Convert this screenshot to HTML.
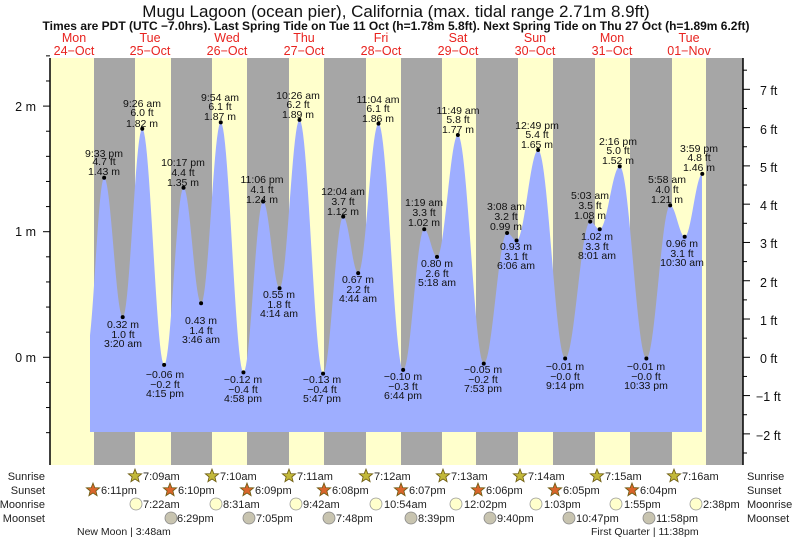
<!DOCTYPE html>
<html><head><meta charset="utf-8"><style>
body{margin:0;background:#fff;}
svg{display:block;font-family:"Liberation Sans",sans-serif;}
.t{font-size:10.5px;fill:#111;text-anchor:middle}
.d{font-size:12.5px;fill:#e8231f;text-anchor:middle}
.r{font-size:11px;fill:#222}
.ax{font-size:12.5px;fill:#111}
</style></head><body>
<svg id="s" width="793" height="539" viewBox="0 0 793 539" xmlns="http://www.w3.org/2000/svg">
<rect width="793" height="539" fill="#fff"/>
<rect x="50" y="58" width="693" height="407" fill="#ffffcc"/>
<g fill="#a6a6a6">
<rect x="94" y="58" width="41" height="407"/>
<rect x="171" y="58" width="41" height="407"/>
<rect x="247" y="58" width="42" height="407"/>
<rect x="324" y="58" width="42" height="407"/>
<rect x="401" y="58" width="41" height="407"/>
<rect x="476" y="58" width="42" height="407"/>
<rect x="553" y="58" width="42" height="407"/>
<rect x="630" y="58" width="42" height="407"/>
<rect x="706" y="58" width="37" height="407"/>
</g>
<path id="tide" fill="#9eaeff" d=""/>
<g id="dots" fill="#000"></g>
<line x1="50" y1="58" x2="50" y2="465" stroke="#000" stroke-width="1.5"/>
<line x1="743" y1="58" x2="743" y2="465" stroke="#000" stroke-width="1.5"/>
<g id="ticks" stroke="#000" stroke-width="1"></g>

<text x="396" y="17" font-size="17" text-anchor="middle" fill="#111">Mugu Lagoon (ocean pier), California (max. tidal range 2.71m 8.9ft)</text>
<text x="396" y="30" font-size="12" font-weight="bold" text-anchor="middle" fill="#111">Times are PDT (UTC −7.0hrs). Last Spring Tide on Tue 11 Oct (h=1.78m 5.8ft). Next Spring Tide on Thu 27 Oct (h=1.89m 6.2ft)</text>
<g class="d">
<text x="74" y="42">Mon</text><text x="74" y="55">24−Oct</text>
<text x="150" y="42">Tue</text><text x="150" y="55">25−Oct</text>
<text x="227" y="42">Wed</text><text x="227" y="55">26−Oct</text>
<text x="304" y="42">Thu</text><text x="304" y="55">27−Oct</text>
<text x="381" y="42">Fri</text><text x="381" y="55">28−Oct</text>
<text x="458" y="42">Sat</text><text x="458" y="55">29−Oct</text>
<text x="535" y="42">Sun</text><text x="535" y="55">30−Oct</text>
<text x="612" y="42">Mon</text><text x="612" y="55">31−Oct</text>
<text x="689" y="42">Tue</text><text x="689" y="55">01−Nov</text>
</g>
<g class="ax" text-anchor="end">
<text x="36" y="111">2 m</text><text x="36" y="236">1 m</text><text x="36" y="362">0 m</text>
</g>
<g class="ax">
<text x="760" y="95">7 ft</text><text x="760" y="134">6 ft</text><text x="760" y="172">5 ft</text>
<text x="760" y="210">4 ft</text><text x="760" y="248">3 ft</text><text x="760" y="287">2 ft</text>
<text x="760" y="325">1 ft</text><text x="760" y="363">0 ft</text><text x="756" y="401">−1 ft</text>
<text x="756" y="440">−2 ft</text>
</g>

<g class="t">
<text x="104" y="157">9:33 pm</text><text x="104" y="165">4.7 ft</text><text x="104" y="175">1.43 m</text>
<text x="123" y="328">0.32 m</text><text x="123" y="338">1.0 ft</text><text x="123" y="347">3:20 am</text>
<text x="142" y="107">9:26 am</text><text x="142" y="116">6.0 ft</text><text x="142" y="127">1.82 m</text>
<text x="165" y="378">−0.06 m</text><text x="165" y="388">−0.2 ft</text><text x="165" y="397">4:15 pm</text>
<text x="183" y="166">10:17 pm</text><text x="183" y="176">4.4 ft</text><text x="183" y="186">1.35 m</text>
<text x="201" y="324">0.43 m</text><text x="201" y="334">1.4 ft</text><text x="201" y="343">3:46 am</text>
<text x="220" y="101">9:54 am</text><text x="220" y="110">6.1 ft</text><text x="220" y="120">1.87 m</text>
<text x="243" y="383">−0.12 m</text><text x="243" y="393">−0.4 ft</text><text x="243" y="402">4:58 pm</text>
<text x="262" y="183">11:06 pm</text><text x="262" y="193">4.1 ft</text><text x="262" y="203">1.24 m</text>
<text x="279" y="298">0.55 m</text><text x="279" y="308">1.8 ft</text><text x="279" y="317">4:14 am</text>
<text x="298" y="99">10:26 am</text><text x="298" y="108">6.2 ft</text><text x="298" y="118">1.89 m</text>
<text x="322" y="383">−0.13 m</text><text x="322" y="393">−0.4 ft</text><text x="322" y="402">5:47 pm</text>
<text x="343" y="195">12:04 am</text><text x="343" y="205">3.7 ft</text><text x="343" y="215">1.12 m</text>
<text x="358" y="283">0.67 m</text><text x="358" y="293">2.2 ft</text><text x="358" y="302">4:44 am</text>
<text x="378" y="103">11:04 am</text><text x="378" y="112">6.1 ft</text><text x="378" y="122">1.86 m</text>
<text x="403" y="380">−0.10 m</text><text x="403" y="390">−0.3 ft</text><text x="403" y="399">6:44 pm</text>
<text x="424" y="206">1:19 am</text><text x="424" y="216">3.3 ft</text><text x="424" y="226">1.02 m</text>
<text x="437" y="267">0.80 m</text><text x="437" y="277">2.6 ft</text><text x="437" y="286">5:18 am</text>
<text x="458" y="114">11:49 am</text><text x="458" y="123">5.8 ft</text><text x="458" y="133">1.77 m</text>
<text x="483" y="373">−0.05 m</text><text x="483" y="383">−0.2 ft</text><text x="483" y="392">7:53 pm</text>
<text x="506" y="210">3:08 am</text><text x="506" y="220">3.2 ft</text><text x="506" y="230">0.99 m</text>
<text x="516" y="250">0.93 m</text><text x="516" y="260">3.1 ft</text><text x="516" y="269">6:06 am</text>
<text x="537" y="129">12:49 pm</text><text x="537" y="138">5.4 ft</text><text x="537" y="148">1.65 m</text>
<text x="565" y="370">−0.01 m</text><text x="565" y="380">−0.0 ft</text><text x="565" y="389">9:14 pm</text>
<text x="590" y="199">5:03 am</text><text x="590" y="209">3.5 ft</text><text x="590" y="219">1.08 m</text>
<text x="597" y="240">1.02 m</text><text x="597" y="250">3.3 ft</text><text x="597" y="259">8:01 am</text>
<text x="618" y="145">2:16 pm</text><text x="618" y="154">5.0 ft</text><text x="618" y="164">1.52 m</text>
<text x="646" y="370">−0.01 m</text><text x="646" y="380">−0.0 ft</text><text x="646" y="389">10:33 pm</text>
<text x="667" y="183">5:58 am</text><text x="667" y="193">4.0 ft</text><text x="667" y="203">1.21 m</text>
<text x="682" y="247">0.96 m</text><text x="682" y="257">3.1 ft</text><text x="682" y="266">10:30 am</text>
<text x="699" y="152">3:59 pm</text><text x="699" y="161">4.8 ft</text><text x="699" y="171">1.46 m</text>
</g>

<g class="r" text-anchor="end">
<text x="45" y="480">Sunrise</text><text x="45" y="494">Sunset</text>
<text x="45" y="508">Moonrise</text><text x="45" y="522">Moonset</text>
</g>
<g class="r">
<text x="747" y="480">Sunrise</text><text x="747" y="494">Sunset</text>
<text x="747" y="508">Moonrise</text><text x="747" y="522">Moonset</text>
</g>
<g id="icons"></g>
<g class="r">
<text x="143" y="480">7:09am</text><text x="220" y="480">7:10am</text><text x="297" y="480">7:11am</text><text x="374" y="480">7:12am</text><text x="451" y="480">7:13am</text><text x="528" y="480">7:14am</text><text x="605" y="480">7:15am</text><text x="682" y="480">7:16am</text>
<text x="101" y="494">6:11pm</text><text x="178" y="494">6:10pm</text><text x="255" y="494">6:09pm</text><text x="332" y="494">6:08pm</text><text x="409" y="494">6:07pm</text><text x="486" y="494">6:06pm</text><text x="563" y="494">6:05pm</text><text x="640" y="494">6:04pm</text>
<text x="143" y="508">7:22am</text><text x="223" y="508">8:31am</text><text x="303" y="508">9:42am</text><text x="384" y="508">10:54am</text><text x="464" y="508">12:02pm</text><text x="544" y="508">1:03pm</text><text x="624" y="508">1:55pm</text><text x="703" y="508">2:38pm</text>
<text x="177" y="522">6:29pm</text><text x="256" y="522">7:05pm</text><text x="336" y="522">7:48pm</text><text x="418" y="522">8:39pm</text><text x="497" y="522">9:40pm</text><text x="576" y="522">10:47pm</text><text x="656" y="522">11:58pm</text>
</g>
<text x="77" y="535" font-size="10.5" fill="#222">New Moon | 3:48am</text>
<text x="591" y="535" font-size="10.5" fill="#222">First Quarter | 11:38pm</text>
</svg>
<script>
(function(){
var NS="http://www.w3.org/2000/svg";
function X(t){return 112+77*t;}
function Y(m){return 357.3-125.6*m;}
var e=[[-0.33,0.05],[-0.102,1.43],[0.139,0.32],[0.393,1.82],[0.677,-0.06],[0.929,1.35],[1.157,0.43],[1.4125,1.87],[1.707,-0.12],[1.9625,1.24],[2.176,0.55],[2.435,1.89],[2.741,-0.13],[3.0028,1.12],[3.197,0.67],[3.461,1.86],[3.781,-0.10],[4.055,1.02],[4.221,0.80],[4.492,1.77],[4.828,-0.05],[5.131,0.99],[5.254,0.93],[5.534,1.65],[5.885,-0.01],[6.210,1.08],[6.334,1.02],[6.594,1.52],[6.940,-0.01],[7.249,1.21],[7.4375,0.96],[7.666,1.46]];
function h(t){for(var i=0;i<e.length-1;i++){if(t>=e[i][0]&&t<=e[i+1][0]){var f=(t-e[i][0])/(e[i+1][0]-e[i][0]);return e[i][1]+(e[i+1][1]-e[i][1])*(1-Math.cos(Math.PI*f))/2;}}return e[e.length-1][1];}
var x0=90,x1=702,yb=432,d="M"+x0+","+yb;
for(var x=x0;x<=x1;x+=1){d+=" L"+x+","+Y(h((x-112)/77)).toFixed(1);}
d+=" L"+x1+","+yb+"Z";
document.getElementById("tide").setAttribute("d",d);
var g=document.getElementById("dots");
for(var i=1;i<e.length;i++){var c=document.createElementNS(NS,"circle");c.setAttribute("cx",X(e[i][0]));c.setAttribute("cy",Y(e[i][1]));c.setAttribute("r",2);g.appendChild(c);}
var tk=document.getElementById("ticks"),s="";
for(var m=-0.6;m<=2.45;m+=0.2){var y=Y(m);var L=(Math.abs(m-Math.round(m))<0.01)?43:46;s+='<line x1="'+L+'" y1="'+y+'" x2="50" y2="'+y+'"/>';}
for(var f=-2.5;f<=7.6;f+=0.5){var y=Y(f*0.3048);var L=(Math.abs(f-Math.round(f))<0.01)?750:747;s+='<line x1="743" y1="'+y+'" x2="'+L+'" y2="'+y+'"/>';}
tk.innerHTML=s;
var ic=document.getElementById("icons"),q="";
function star(cx,cy,col){var p="";for(var k=0;k<10;k++){var r=k%2?3:7,a=-Math.PI/2+k*Math.PI/5;p+=(cx+r*Math.cos(a)).toFixed(1)+","+(cy+r*Math.sin(a)).toFixed(1)+" ";}return '<polygon points="'+p+'" fill="'+col+'" stroke="#6b5a10" stroke-width="0.8"/>';}
[135,212,289,366,443,520,597,674].forEach(function(x){q+=star(x,476,"#c2b83a");});
[93,170,247,324,401,478,555,632].forEach(function(x){q+=star(x,490,"#d9652b");});
[136,216,296,376,456,536,616,696].forEach(function(x){q+='<circle cx="'+x+'" cy="504" r="6" fill="#ffffcc" stroke="#999" stroke-width="0.8"/>';});
[171,249,329,411,490,569,649].forEach(function(x){q+='<circle cx="'+x+'" cy="518" r="6" fill="#c8c4b0" stroke="#888" stroke-width="0.8"/>';});
ic.innerHTML=q;
})();
</script>
</body></html>
